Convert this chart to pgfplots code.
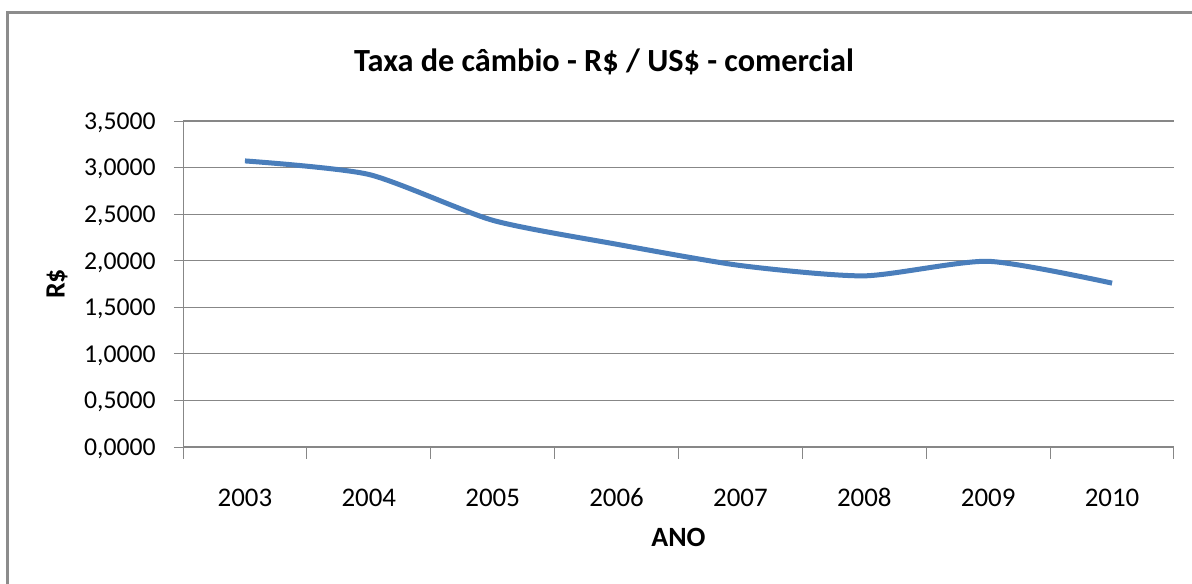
\documentclass[border=0pt]{standalone}
\usepackage{fontspec}
\setmainfont{Carlito}
\usepackage{pgfplots}
\pgfplotsset{compat=1.18}
\definecolor{linecol}{HTML}{4A7EBB}
\definecolor{gridcol}{HTML}{878787}
\definecolor{bordercol}{HTML}{8C8C8C}
\begin{document}
\begin{tikzpicture}
\useasboundingbox (0,0) rectangle (596bp,292bp);
\draw[bordercol, line width=1.5bp] (3.5bp,-2bp) -- (3.5bp,285.5bp) -- (598bp,285.5bp);
\node[font=\fontsize{16.2}{19}\selectfont\bfseries, anchor=base] at (302bp,256bp) {Taxa de câmbio - R\$ / US\$ - comercial};
\begin{axis}[
  at={(91.5bp,68.5bp)}, anchor=south west,
  scale only axis, width=495.5bp, height=163bp,
  xmin=0.5, xmax=8.5, ymin=0, ymax=3.5,
  axis x line=bottom, axis y line=left,
  axis line style={-, gridcol},
  x axis line style={line width=1bp},
  y axis line style={line width=0.5bp},
  xtick={1,...,8},
  xticklabels={2003,2004,2005,2006,2007,2008,2009,2010},
  major x tick style={draw=none},
  minor xtick={0.5,1.5,...,8.5},
  minor x tick style={gridcol, line width=0.5bp},
  minor tick length=6bp,
  ytick={0,0.5,...,3.5},
  major tick length=4.5bp,
  tick align=outside,
  major y tick style={gridcol, line width=0.5bp},
  ymajorgrids,
  major grid style={gridcol, line width=0.6bp},
  /pgf/number format/assume math mode=true,
  /pgf/number format/use comma,
  /pgf/number format/fixed,
  /pgf/number format/fixed zerofill,
  /pgf/number format/precision=4,
  /pgf/number format/1000 sep={},
  yticklabel style={font=\fontsize{12.9}{16}\selectfont, anchor=base east, inner sep=0pt, xshift=-9bp, yshift=-4.2bp},
  xticklabel style={font=\fontsize{13.5}{16}\selectfont, anchor=base, inner sep=0pt, yshift=-25bp},
  xlabel={ANO},
  ylabel={R\$},
  xlabel style={font=\fontsize{14}{16}\selectfont\bfseries, at={(axis description cs:0.5,-0.276)}, anchor=center, inner sep=0pt},
  ylabel style={font=\fontsize{14}{16}\selectfont\bfseries, at={(axis description cs:-0.127,0.5)}, anchor=center, inner sep=0pt},
  clip=false,
]
\addplot[linecol, line width=2.5bp, smooth, tension=0.4, no markers] coordinates {
  (1,3.0715) (2,2.9262) (3,2.4341) (4,2.1771) (5,1.9483) (6,1.8375) (7,1.9935) (8,1.7593)
};
\end{axis}
\end{tikzpicture}
\end{document}
